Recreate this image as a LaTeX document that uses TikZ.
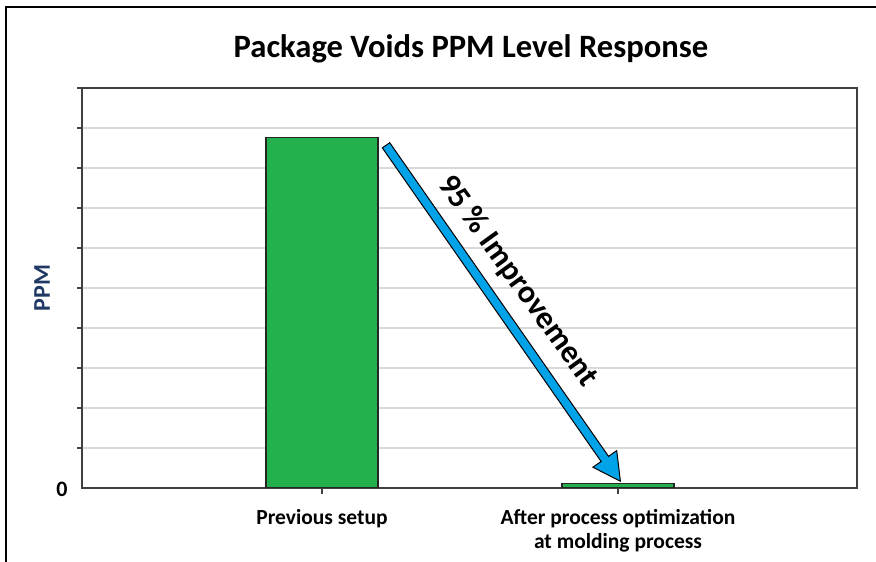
\documentclass[tikz,border=0pt]{standalone}
\usepackage{fontspec}
\setmainfont{Carlito}
\usetikzlibrary{positioning,calc,shapes.arrows}
\definecolor{pvGreen}{RGB}{34,177,76}
\definecolor{pvBlue}{RGB}{0,162,232}
\definecolor{pvGrid}{RGB}{217,217,217}
\definecolor{pvFrame}{RGB}{64,64,64}
\definecolor{pvNavy}{RGB}{31,56,100}

\begin{document}
\begin{tikzpicture}[
    x=1pt, y=-1pt,
    bar/.style={draw=black!85, line width=1.2pt, fill=pvGreen, minimum width=112pt, inner sep=0pt, anchor=south},
    cat label/.style={font=\bfseries\fontsize{21.5}{24}\selectfont, align=center, anchor=base, inner sep=0pt},
    axis label/.style={font=\bfseries\fontsize{24}{28}\selectfont, inner sep=0pt},
    gain arrow/.style={single arrow, draw=black, line width=1pt, fill=pvBlue, inner sep=4pt, single arrow head extend=10pt, single arrow tip angle=56, anchor=center},
    gain note/.style={font=\bfseries\fontsize{32}{36}\selectfont, inner sep=0pt}
]
  \useasboundingbox (0,0) rectangle (876,562);

  % outer frame, cut by the page on the right and at the bottom
  \draw[line width=2pt] (6,580) -- (6,7) -- (890,7);

  \node[font=\bfseries\fontsize{32.6}{36}\selectfont, anchor=base] (title) at (471,57) {Package Voids PPM Level Response};

  % grid and plot box
  \foreach \y in {128,168,...,448}
    \draw[pvGrid, line width=1.5pt] (82,\y) -- (857,\y);
  \foreach \y in {88,128,...,448}
    \draw[pvFrame, line width=1.5pt] (77,\y) -- (82,\y);
  \draw[pvFrame, line width=1.5pt] (322,488) -- (322,494);
  \draw[pvFrame, line width=1.5pt] (618,488) -- (618,494);
  \draw[pvFrame, line width=2pt] (82,88) rectangle (857,488);

  % bars
  \node[bar, minimum height=350pt] (prev) at (322,488) {};
  \node[bar, minimum height=4pt] (after) at (618,488) {};

  % axis texts
  \node[axis label, text=pvNavy, rotate=90] (ppm) at (42,288) {PPM};
  \node[axis label, font=\bfseries\fontsize{22}{26}\selectfont] (zero) at (62,489.5) {0};
  \node[cat label] (prevlab) at (322,524) {Previous setup};
  \node[cat label] (afterlab) at (618,548) {After process optimization\\at molding process};

  % improvement arrow
  \coordinate (gainStart) at ($(prev.north east)+(5,5)$);
  \coordinate (gainEnd) at ($(after.north)+(0,-5)$);
  \path let \p1=($(gainEnd)-(gainStart)$), \n1={atan2(\y1,\x1)}, \n2={veclen(\x1,\y1)} in
    node[gain arrow, rotate=\n1, minimum height=\n2] (gain) at ($(gainStart)!0.5!(gainEnd)$) {}
    node[gain note, rotate=\n1+1] (gaintext) at ($(gainStart)!0.467!(gainEnd)+(\n1+90:30pt)$) {95 \% Improvement};
\end{tikzpicture}
\end{document}
